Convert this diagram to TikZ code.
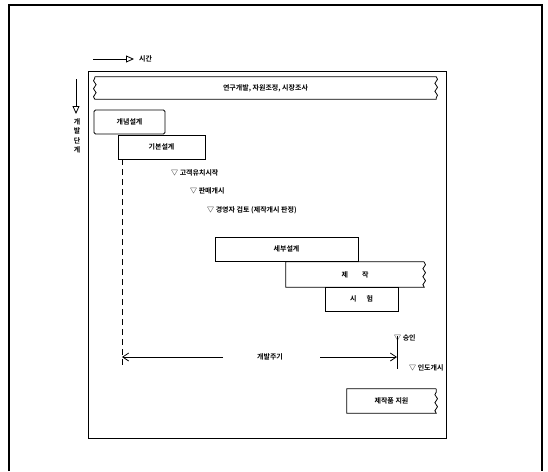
\documentclass[tikz,border=0pt]{standalone}
\usepackage{fontspec}
\newfontfamily\kr{Noto Sans CJK KR}[BoldFont={Noto Sans CJK KR Bold}]
\usetikzlibrary{arrows.meta,decorations.pathmorphing}
\begin{document}
\begin{tikzpicture}[x=1pt,y=-1pt,
  txt/.style={font=\kr\bfseries\fontsize{7}{8}\selectfont, inner sep=0pt},
  phase/.style={txt, draw, line width=0.8pt, minimum height=24pt},
  plain/.style={txt, minimum height=24pt},
  wave/.style={decorate, decoration={snake, amplitude=1.3pt, segment length=8pt}},
  milestone/.style={txt, anchor=west},
  ln/.style={line width=0.8pt}]
\useasboundingbox (0,0) rectangle (548,471);
% frames
\draw[line width=1.1pt] (9,471) -- (9,5) -- (542,5) -- (542,471);
\draw[ln] (88,71) rectangle (446,438);
% time axis
\coordinate (t0) at (93,59);
\coordinate (t1) at (134,59);
\node[txt, anchor=west] (time) at (139,59) {시간};
\draw[ln, -{Triangle[open,length=8pt,width=7pt]}] (t0) -- (t1);
% stage axis
\coordinate (s0) at (76,79);
\coordinate (s1) at (76,114);
\draw[ln, -{Triangle[open,length=8pt,width=7pt]}] (s0) -- (s1);
\node[txt, align=center, anchor=north, font=\kr\bfseries\fontsize{7}{9.5}\selectfont] (stage) at (77,118) {개\\발\\단\\계};
% research bar
\node[plain, minimum width=341pt, minimum height=22pt] (rd) at (265.5,88) {연구개발, 자원조정, 시장조사};
\draw[ln] (rd.north west) -- (rd.north east) decorate[wave]{-- (rd.south east)} -- (rd.south west) decorate[wave]{-- (rd.north west)};
% phases
\node[phase, minimum width=71pt, rounded corners=1.5pt] (gn) at (129.5,122) {개념설계};
\node[phase, minimum width=87pt, fill=white] (gb) at (161.5,147) {기본설계};
\node[phase, minimum width=143pt] (sb) at (286.5,249) {세부설계};
\node[plain, minimum width=138pt, minimum height=25pt] (jj) at (355,274.5) {제\hspace{14pt}작};
\draw[ln] (jj.north east) -- (jj.north west) -- (jj.south west) -- (jj.south east) decorate[wave]{-- (jj.north east)};
\node[phase, minimum width=73pt] (sh) at (361.5,299) {시\hspace{10pt}험};
\node[plain, minimum width=89pt] (js) at (391.5,401) {제작품 지원};
\draw[ln] (js.north east) -- (js.north west) -- (js.south west) -- (js.south east) decorate[wave]{-- (js.north east)};
% milestones
\node[milestone] (m1) at (171,173) {▽ 고객유치시작};
\node[milestone] (m2) at (190,191) {▽ 판매개시};
\node[milestone] (m3) at (207,210) {▽ 경영자 검토 (제작개시 판정)};
\node[milestone] (m4) at (394,338) {▽ 승인};
\node[milestone] (m5) at (409,368) {▽ 인도개시};
% development cycle
\coordinate (dtop) at (122,159);
\coordinate (dbot) at (122,366);
\coordinate (dl) at (122,357);
\coordinate (dr) at (397,357);
\coordinate (dt) at (397,336);
\coordinate (db) at (397,369);
\draw[ln, dash pattern=on 6pt off 4pt] (dtop) -- (dbot);
\node[txt] (cyc) at (270,357) {개발주기};
\coordinate (cl) at (223,357);
\coordinate (cr) at (320,357);
\draw[ln, -{Straight Barb[length=6pt,width=8pt]}] (cl) -- (dl);
\draw[ln, -{Straight Barb[length=6pt,width=8pt]}] (cr) -- (dr);
\draw[ln] (dt) -- (db);
\end{tikzpicture}
\end{document}
